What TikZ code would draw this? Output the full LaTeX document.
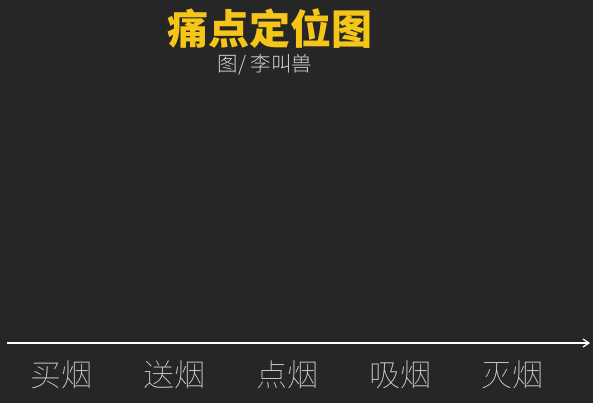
\documentclass[tikz,border=0pt]{standalone}
\usepackage{fontspec}
\newfontfamily\cjkb{Noto Sans CJK SC}[UprightFont=* Black]
\newfontfamily\cjkm{Noto Sans CJK SC}[UprightFont=* Light]
\newfontfamily\cjkl{Noto Sans CJK SC}[UprightFont=* Thin]
\usetikzlibrary{arrows.meta}
\definecolor{bg}{HTML}{262626}
\definecolor{gold}{HTML}{F5C518}
\definecolor{lbl}{HTML}{D2D2D2}
\tikzset{
  titletext/.style={text=gold,font=\cjkb\fontsize{41}{41}\selectfont,inner sep=0pt},
  subtext/.style={text=lbl,font=\cjkm\fontsize{20.5}{20.5}\selectfont,inner sep=0pt},
  steplabel/.style={text=lbl,font=\cjkl\fontsize{31}{31}\selectfont,inner sep=0pt},
  axisline/.style={draw=white,line width=1.2pt,-{Straight Barb[length=6pt,width=8pt]}}
}
\begin{document}
\begin{tikzpicture}[x=1pt,y=-1pt]
\fill[bg] (0,0) rectangle (593,403);
\useasboundingbox (0,0) rectangle (593,403);
\node[titletext] (title) at (270,29) {痛点定位图};
\node[subtext] (sub) at (265,65) {图/ 李叫兽};
\coordinate (a0) at (7,343);
\coordinate (a1) at (590,343);
\draw[axisline] (a0) -- (a1);
\node[steplabel] (s1) at (61,375) {买烟};
\node[steplabel] (s2) at (174,375) {送烟};
\node[steplabel] (s3) at (287,375) {点烟};
\node[steplabel] (s4) at (400,375) {吸烟};
\node[steplabel] (s5) at (512,375) {灭烟};
\end{tikzpicture}
\end{document}
